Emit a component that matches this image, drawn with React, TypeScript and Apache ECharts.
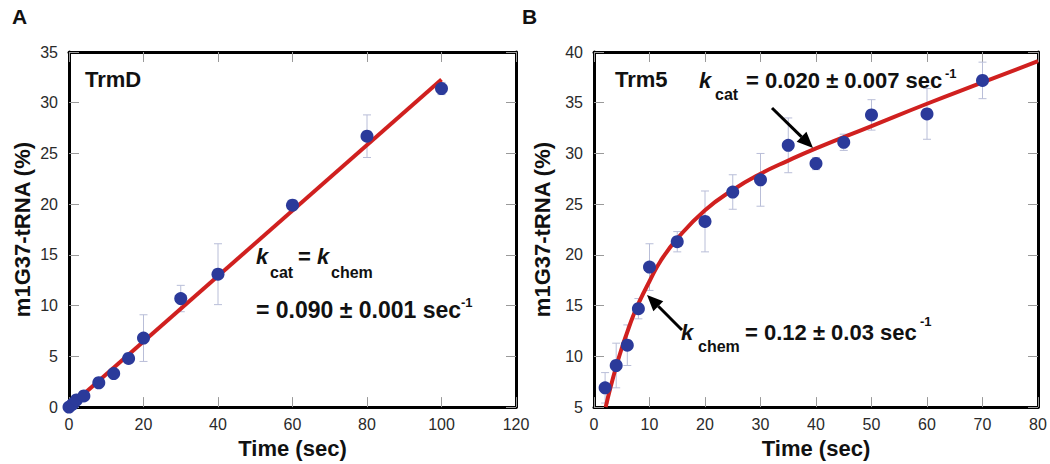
import React, { useEffect, useRef } from "react";
import * as echarts from "echarts";

// Panel A (TrmD)
const aTime = [0, 1, 2, 4, 8, 12, 16, 20, 30, 40, 60, 80, 100];
const aValue = [0, 0.3, 0.7, 1.1, 2.4, 3.3, 4.8, 6.8, 10.7, 13.1, 19.9, 26.7, 31.4];
const aError = [0.2, 0.2, 0.3, 0.3, 0.4, 0.4, 0.5, 2.3, 1.3, 3.0, 0.5, 2.1, 0.6];
const aFitTime = [0, 100];
const aFitValue = [0, 32.3];

// Panel B (Trm5)
const bTime = [2, 4, 6, 8, 10, 15, 20, 25, 30, 35, 40, 45, 50, 60, 70];
const bValue = [6.9, 9.1, 11.1, 14.7, 18.8, 21.3, 23.3, 26.2, 27.4, 30.8, 29.0, 31.1, 33.8, 33.9, 37.2];
const bError = [1.5, 2.2, 2.0, 1.0, 2.3, 1.0, 3.0, 1.7, 2.6, 2.7, 0.6, 0.8, 1.5, 2.5, 1.8];
const bFitTime = [2.1, 3, 4, 5, 6, 7, 8, 10, 12, 15, 20, 25, 30, 35, 40, 50, 60, 70, 80];
const bFitValue = [5.0, 7.0, 9.0, 10.8, 12.4, 13.9, 15.2, 17.4, 19.4, 21.6, 24.4, 26.4, 28.0, 29.3, 30.5, 32.7, 34.9, 37.0, 39.1];

// Axis ticks
const aXTicks = { min: 0, max: 120, interval: 20 };
const aYTicks = { min: 0, max: 35, interval: 5 };
const bXTicks = { min: 0, max: 80, interval: 10 };
const bYTicks = { min: 5, max: 40, interval: 5 };

const FONT = "'Liberation Sans', Arial, Helvetica, sans-serif";
const DOT = "#2B3A9A";
const RED = "#D0201F";
const ERR = "#B9BED8";

function errorBars(xs: number[], ys: number[], es: number[], xi: number, yi: number) {
  return {
    type: "custom",
    xAxisIndex: xi,
    yAxisIndex: yi,
    z: 1,
    data: xs.map((x, i) => [x, ys[i], es[i]]),
    encode: { x: 0, y: 1 },
    renderItem: (params: any, api: any) => {
      const x = api.value(0);
      const y = api.value(1);
      const e = api.value(2);
      const top = api.coord([x, y + e]);
      const bot = api.coord([x, y - e]);
      const w = 4;
      const st = { stroke: ERR, lineWidth: 1 };
      return {
        type: "group",
        children: [
          { type: "line", shape: { x1: top[0], y1: top[1], x2: bot[0], y2: bot[1] }, style: st },
          { type: "line", shape: { x1: top[0] - w, y1: top[1], x2: top[0] + w, y2: top[1] }, style: st },
          { type: "line", shape: { x1: bot[0] - w, y1: bot[1], x2: bot[0] + w, y2: bot[1] }, style: st },
        ],
      };
    },
  };
}

function axis(grid: number, ticks: any, pos: string, withLabels: boolean, name?: string, nameGap?: number) {
  return {
    gridIndex: grid,
    type: "value",
    position: pos,
    min: ticks.min,
    max: ticks.max,
    interval: ticks.interval,
    axisLine: { show: true, onZero: false, lineStyle: { color: "#000", width: 3 } },
    axisTick: { show: true, inside: true, length: 10, lineStyle: { color: "#9a9a9a", width: 1 } },
    axisLabel: {
      show: withLabels,
      fontSize: 16,
      color: "#2a2a2a",
      fontFamily: FONT,
      margin: pos === "left" ? 11 : 9,
    },
    splitLine: { show: false },
    name: name,
    nameLocation: "middle",
    nameGap: nameGap,
    nameTextStyle: { fontSize: 22, fontWeight: "bold", color: "#111", fontFamily: FONT },
  };
}

function txt(x: number, y: number, text: string, size: number, italic = false) {
  return {
    type: "text",
    x,
    y,
    z: 100,
    style: {
      text,
      fontSize: size,
      fontWeight: "bold",
      fontStyle: italic ? "italic" : "normal",
      fontFamily: FONT,
      fill: "#111",
      align: "left",
      verticalAlign: "middle",
    },
  };
}

function arrow(x1: number, y1: number, x2: number, y2: number) {
  const dx = x2 - x1;
  const dy = y2 - y1;
  const len = Math.sqrt(dx * dx + dy * dy);
  const ux = dx / len;
  const uy = dy / len;
  const hl = 16;
  const hw = 7;
  const bx = x2 - ux * hl;
  const by = y2 - uy * hl;
  return [
    { type: "line", z: 100, shape: { x1, y1, x2: bx, y2: by }, style: { stroke: "#000", lineWidth: 3 } },
    {
      type: "polygon",
      z: 100,
      shape: { points: [[x2, y2], [bx - uy * hw, by + ux * hw], [bx + uy * hw, by - ux * hw]] },
      style: { fill: "#000" },
    },
  ];
}

export default function App() {
  const ref = useRef<HTMLDivElement>(null);
  useEffect(() => {
    if (!ref.current) return;
    const chart = echarts.init(ref.current, null, { renderer: "svg" });
    const option: any = {
      animation: false,
      backgroundColor: "#fff",
      grid: [
        { left: 69, top: 52, width: 447, height: 356 },
        { left: 594, top: 52, width: 444, height: 357 },
      ],
      xAxis: [
        axis(0, aXTicks, "bottom", true, "Time (sec)", 27),
        axis(0, aXTicks, "top", false),
        axis(1, bXTicks, "bottom", true, "Time (sec)", 27),
        axis(1, bXTicks, "top", false),
      ],
      yAxis: [
        axis(0, aYTicks, "left", true, "m1G37-tRNA (%)", 36),
        axis(0, aYTicks, "right", false),
        axis(1, bYTicks, "left", true, "m1G37-tRNA (%)", 41),
        axis(1, bYTicks, "right", false),
      ],
      series: [
        errorBars(aTime, aValue, aError, 0, 0),
        {
          type: "line",
          xAxisIndex: 0,
          yAxisIndex: 0,
          z: 2,
          data: aFitTime.map((t, i) => [t, aFitValue[i]]),
          showSymbol: false,
          lineStyle: { color: RED, width: 4 },
        },
        {
          type: "scatter",
          xAxisIndex: 0,
          yAxisIndex: 0,
          z: 3,
          symbolSize: 13,
          itemStyle: { color: DOT, opacity: 1 },
          data: aTime.map((t, i) => [t, aValue[i]]),
        },
        errorBars(bTime, bValue, bError, 2, 2),
        {
          type: "line",
          xAxisIndex: 2,
          yAxisIndex: 2,
          z: 2,
          smooth: true,
          data: bFitTime.map((t, i) => [t, bFitValue[i]]),
          showSymbol: false,
          lineStyle: { color: RED, width: 4 },
        },
        {
          type: "scatter",
          xAxisIndex: 2,
          yAxisIndex: 2,
          z: 3,
          symbolSize: 13,
          itemStyle: { color: DOT, opacity: 1 },
          data: bTime.map((t, i) => [t, bValue[i]]),
        },
      ],
      graphic: [
        txt(12, 16, "A", 21),
        txt(522, 16, "B", 21),
        txt(85, 79, "TrmD", 22),
        txt(256, 256, "k", 22, true),
        txt(270, 272, "cat", 16),
        txt(298, 256, "=", 22),
        txt(317, 256, "k", 22, true),
        txt(331, 272, "chem", 16),
        txt(256, 310, "= 0.090 ± 0.001 sec", 23),
        txt(461, 302, "-1", 13),
        txt(615, 79, "Trm5", 22),
        txt(699, 80, "k", 22, true),
        txt(715, 94, "cat", 16),
        txt(746, 80, "= 0.020 ± 0.007 sec", 22),
        txt(945, 73, "-1", 13),
        txt(681, 332, "k", 22, true),
        txt(698, 346, "chem", 16),
        txt(745, 332, "= 0.12 ± 0.03 sec", 22),
        txt(920, 321, "-1", 13),
        ...arrow(772, 108, 813, 148),
        ...arrow(682, 330, 647, 295),
      ],
    };
    chart.setOption(option);
    return () => chart.dispose();
  }, []);
  return (
    <div
      ref={ref}
      style={{ position: "fixed", left: 0, top: 0, width: 1050, height: 464, background: "#fff" }}
    />
  );
}
